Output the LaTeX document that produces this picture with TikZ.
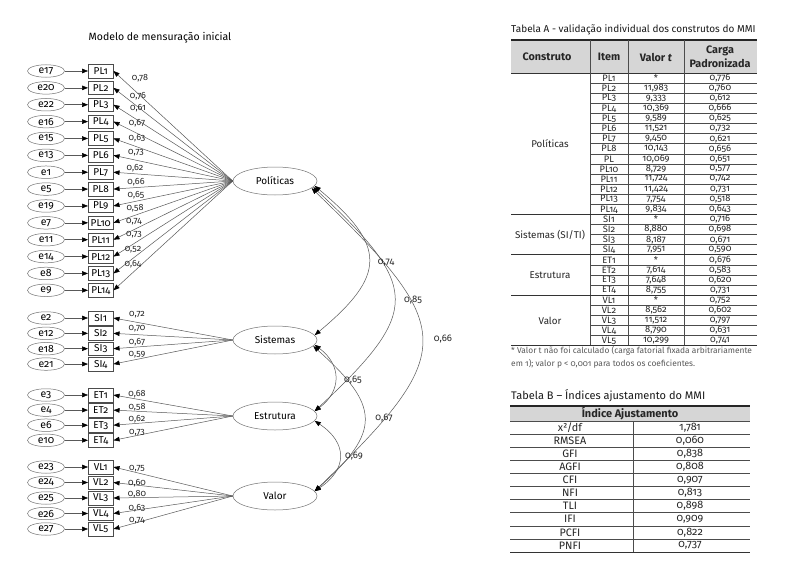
\documentclass[tikz,border=0pt]{standalone}
\usepackage{fontspec}
\setmainfont{Fira Sans}[Numbers=OldStyle]
\usetikzlibrary{arrows.meta,shapes.geometric,calc}
\begin{document}
\begin{tikzpicture}[x=1pt,y=-1pt,
  >={Triangle[length=6pt,width=4.6pt,color=black]},
  errnode/.style={ellipse, draw=black!55, line width=0.5pt, minimum width=37pt, minimum height=12.5pt, inner sep=0pt, font=\fontsize{10.5}{11}\selectfont},
  obsnode/.style={rectangle, draw=black!70, line width=0.5pt, minimum width=25pt, minimum height=13.5pt, inner sep=0.6pt, anchor=west, font=\fontsize{10}{11}\selectfont},
  latnode/.style={ellipse, draw=black!55, line width=0.5pt, minimum width=84pt, minimum height=28pt, inner sep=0pt, font=\fontsize{10}{11}\selectfont},
  ld/.style={draw=black!65, line width=0.5pt, ->},
  cov/.style={draw=black!65, line width=0.5pt, <->},
  lbl/.style={font=\fontsize{9}{10}\selectfont, inner sep=0pt, text=black!85},
  clbl/.style={font=\fontsize{9.5}{10}\selectfont, inner sep=0pt, text=black!85},
  cell/.style={font=\fontsize{9.3}{10}\selectfont, inner sep=0pt, text=black!85},
  grp/.style={font=\fontsize{9.8}{10}\selectfont, inner sep=0pt, text=black!85},
  hdr/.style={font=\fontsize{10.8}{13.5}\selectfont\bfseries, inner sep=0pt, text=black!85, align=center},
  ttl/.style={font=\fontsize{10}{12}\selectfont, inner sep=0pt, anchor=west, text=black!90},
  bcell/.style={font=\fontsize{10.8}{12}\selectfont, inner sep=0pt, text=black!85},
  rowline/.style={draw=black!70, line width=0.5pt},
  grpline/.style={draw=black!80, line width=0.8pt},
]
\fill[white] (0,0) rectangle (800,578);
\useasboundingbox (0,0) rectangle (800,578);

% ---------------- Diagram ----------------
\node[font=\fontsize{10.5}{11}\selectfont, inner sep=0pt] (title) at (160,38) {Modelo de mensuração inicial};

\node[latnode] (pol) at (275,181) {Políticas};
\node[latnode] (sis) at (275,340) {Sistemas};
\node[latnode] (est) at (275,416) {Estrutura};
\node[latnode] (val) at (275,496) {Valor};

% PL indicators
\foreach \ee/\vv/\lx/\ly [count=\k] in {
  17/{0,78}/140/78, 20/{0,76}/138/96, 22/{0,61}/138/108, 16/{0,67}/137/123,
  15/{0,63}/137/138, 13/{0,73}/136/153, 1/{0,62}/135/168, 5/{0,66}/136/182,
  19/{0,65}/136/195, 7/{0,58}/135/208, 11/{0,74}/134/222, 14/{0,73}/134/235,
  8/{0,52}/133/250, 9/{0,64}/133/264} {
  \pgfmathsetmacro\yy{71+16.87*(\k-1)}
  \node[errnode] (e\ee) at (46,\yy) {e\ee};
  \node[obsnode] (PL\k) at (88,\yy) {PL\k};
  \draw[ld] (e\ee.east) -- (PL\k.west);
  \draw[ld] (pol.west) -- (PL\k.east);
  \node[lbl] (lPL\k) at (\lx,\ly) {\vv};
}

% SI indicators
\foreach \ee/\vv/\ly [count=\k] in {2/{0,72}/315, 12/{0,70}/329, 18/{0,67}/342, 21/{0,59}/355} {
  \pgfmathsetmacro\yy{318+15.35*(\k-1)}
  \node[errnode] (e\ee) at (46,\yy) {e\ee};
  \node[obsnode] (SI\k) at (88,\yy) {SI\k};
  \draw[ld] (e\ee.east) -- (SI\k.west);
  \draw[ld] (sis.west) -- (SI\k.east);
  \node[lbl] (lSI\k) at (137,\ly) {\vv};
}

% ET indicators
\foreach \ee/\vv/\ly [count=\k] in {3/{0,68}/394, 4/{0,58}/407, 6/{0,62}/419, 10/{0,73}/433} {
  \pgfmathsetmacro\yy{395+15.1*(\k-1)}
  \node[errnode] (e\ee) at (46,\yy) {e\ee};
  \node[obsnode] (ET\k) at (88,\yy) {ET\k};
  \draw[ld] (e\ee.east) -- (ET\k.west);
  \draw[ld] (est.west) -- (ET\k.east);
  \node[lbl] (lET\k) at (137,\ly) {\vv};
}

% VL indicators
\foreach \ee/\vv/\ly [count=\k] in {23/{0,75}/469, 24/{0,60}/483, 25/{0,80}/494, 26/{0,63}/508, 27/{0,74}/521} {
  \pgfmathsetmacro\yy{467+15.5*(\k-1)}
  \node[errnode] (e\ee) at (46,\yy) {e\ee};
  \node[obsnode] (VL\k) at (88,\yy) {VL\k};
  \draw[ld] (e\ee.east) -- (VL\k.west);
  \draw[ld] (val.west) -- (VL\k.east);
  \node[lbl] (lVL\k) at (137,\ly) {\vv};
}

% covariances
\draw[cov] (pol.-7) .. controls ($(pol.-7)+(72,60)$) and ($(sis.7)+(72,-60)$) .. (sis.7);
\draw[cov] (pol.-9) .. controls ($(pol.-9)+(107,100)$) and ($(est.7)+(107,-100)$) .. (est.7);
\draw[cov] (pol.-11) .. controls ($(pol.-11)+(145,140)$) and ($(val.7)+(145,-140)$) .. (val.7);
\draw[cov] (sis.-7) .. controls ($(sis.-7)+(27,20)$) and ($(est.7)+(27,-20)$) .. (est.7);
\draw[cov] (sis.-9) .. controls ($(sis.-9)+(67,60)$) and ($(val.7)+(67,-60)$) .. (val.7);
\draw[cov] (est.-7) .. controls ($(est.-7)+(33,22)$) and ($(val.7)+(33,-22)$) .. (val.7);

\node[clbl] (c1) at (386,263) {0,74};
\node[clbl] (c2) at (413,300) {0,85};
\node[clbl] (c3) at (443,339) {0,66};
\node[clbl] (c4) at (353,380) {0,65};
\node[clbl] (c5) at (384,418) {0,67};
\node[clbl] (c6) at (354,456) {0,69};

% ---------------- Table A ----------------
\node[ttl] (tA) at (511,30) {Tabela A - validação individual dos construtos do MMI};
\fill[black!16] (511,40) rectangle (757,73);
\draw[draw=black!85, line width=1.4pt] (511,40) -- (757,40);
\draw[grpline] (511,73) -- (757,73);
\foreach \xx in {590,628,684} \draw[rowline] (\xx,40) -- (\xx,345.7);
\node[hdr] (hA1) at (547,57) {Construto};
\node[hdr] (hA2) at (609,57) {Item};
\node[hdr] (hA3) at (656,57) {Valor \textit{t}};
\node[hdr] (hA4) at (720,57) {Carga\\Padronizada};

\foreach \itm/\tv/\cv [count=\k] in {
  PL1/*/{0,776}, PL2/{11,983}/{0,760}, PL3/{9,333}/{0,612}, PL4/{10,369}/{0,666},
  PL5/{9,589}/{0,625}, PL6/{11,521}/{0,732}, PL7/{9,450}/{0,621}, PL8/{10,143}/{0,656},
  PL/{10,069}/{0,651}, PL10/{8,729}/{0,577}, PL11/{11,724}/{0,742}, PL12/{11,424}/{0,731},
  PL13/{7,754}/{0,518}, PL14/{9,834}/{0,643},
  SI1/*/{0,716}, SI2/{8,880}/{0,698}, SI3/{8,187}/{0,671}, SI4/{7,951}/{0,590},
  ET1/*/{0,676}, ET2/{7,614}/{0,583}, ET3/{7,648}/{0,620}, ET4/{8,755}/{0,731},
  VL1/*/{0,752}, VL2/{8,562}/{0,602}, VL3/{11,512}/{0,797}, VL4/{8,790}/{0,631}, VL5/{10,299}/{0,741}} {
  \pgfmathsetmacro\yy{73+(\k-0.5)*10.1}
  \node[cell] (ai\k) at (609,\yy) {\itm};
  \node[cell] (at\k) at (656,\yy) {\tv};
  \node[cell] (ac\k) at (720,\yy) {\cv};
}
\foreach \k in {1,...,13,15,16,17,19,20,21,23,24,25,26}
  \draw[rowline] (590,{73+\k*10.1}) -- (757,{73+\k*10.1});
\foreach \k in {14,18,22,27}
  \draw[grpline] (511,{73+\k*10.1}) -- (757,{73+\k*10.1});

\node[grp] (gA1) at (550,143.7) {Políticas};
\node[grp] (gA2) at (550,234.6) {Sistemas (SI/TI)};
\node[grp] (gA3) at (550,275) {Estrutura};
\node[grp] (gA4) at (550,320.5) {Valor};

\node[font=\fontsize{8.4}{13.5}\selectfont, inner sep=0pt, anchor=north west, align=left, text=black!65] (fn) at (511,346)
  {* Valor t não foi calculado (carga fatorial fixada arbitrariamente\\em 1); valor p < 0,001 para todos os coeficientes.};

% ---------------- Table B ----------------
\node[ttl, font=\fontsize{11}{12}\selectfont] (tB) at (511,396) {Tabela B – Índices ajustamento do MMI};
\fill[black!16] (510,406) rectangle (750,421);
\draw[draw=black!85, line width=1.4pt] (510,406) -- (750,406);
\node[hdr, font=\fontsize{11}{12}\selectfont\bfseries] (hB) at (630,413.5) {Índice Ajustamento};
\draw[rowline] (633,421) -- (633,552);
\node[bcell] (bn0) at (570,427.55) {x²/df};
\node[bcell] (bv0) at (690,427.55) {1,781};
\foreach \nm/\vl [count=\k] in {RMSEA/{0,060}, GFI/{0,838}, AGFI/{0,808}, CFI/{0,907},
  NFI/{0,813}, TLI/{0,898}, IFI/{0,909}, PCFI/{0,822}, PNFI/{0,737}} {
  \pgfmathsetmacro\yy{421+(\k+0.5)*13.1}
  \node[bcell] (bn\k) at (570,\yy) {\nm};
  \node[bcell] (bv\k) at (690,\yy) {\vl};
}
\foreach \k in {0,...,9}
  \draw[rowline] (510,{421+\k*13.1}) -- (750,{421+\k*13.1});
\draw[grpline] (510,552) -- (750,552);
\end{tikzpicture}
\end{document}
